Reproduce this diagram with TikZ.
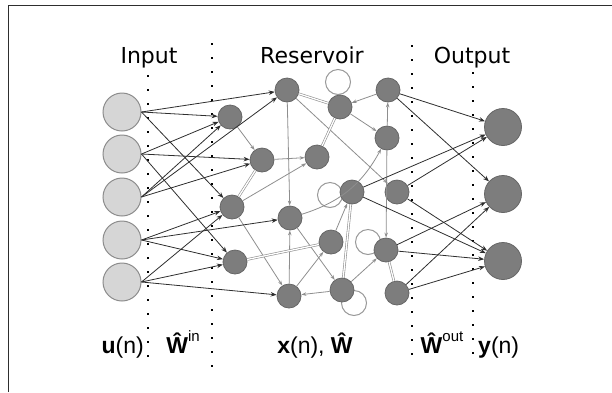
\documentclass[tikz,border=0pt]{standalone}
\usepackage{fontspec}
\setmainfont{Liberation Sans}
\newfontfamily\titlefont{DejaVu Sans}
\usetikzlibrary{arrows.meta}
\definecolor{inf}{HTML}{D6D6D6}
\definecolor{inb}{HTML}{8C8C8C}
\definecolor{resf}{HTML}{7D7D7D}
\definecolor{resb}{HTML}{666666}
\definecolor{edg}{HTML}{8E8E8E}
\definecolor{dark}{HTML}{2E2E2E}
\tikzset{
  innode/.style={circle,fill=inf,draw=inb,line width=1pt,minimum size=38pt,inner sep=0pt},
  resnode/.style={circle,fill=resf,draw=resb,line width=0.8pt,minimum size=24pt,inner sep=0pt},
  outnode/.style={circle,fill=resf,draw=resb,line width=0.8pt,minimum size=37pt,inner sep=0pt},
  loopc/.style={circle,draw=edg!90,line width=1pt,fill=none,minimum size=25pt,inner sep=0pt},
  inarr/.style={draw=dark,line width=0.8pt,-{Stealth[length=6pt,width=4.5pt]}},
  resarr/.style={draw=edg,line width=0.8pt,-{Stealth[length=5pt,width=3.5pt]}},
  dbl/.style={draw=edg,line width=0.6pt,double=white,double distance=1.3pt},
  dotline/.style={draw=black,line width=2pt,dash pattern=on 2pt off 12pt},
  ttl/.style={font=\titlefont\fontsize{22}{26}\selectfont,anchor=base,inner sep=0pt},
  lab/.style={font=\fontsize{23}{27}\selectfont,anchor=base,inner sep=0pt},
}
\newcommand{\supsm}[1]{\raisebox{0.5em}{\fontsize{15}{15}\selectfont #1}}
\begin{document}
\begin{tikzpicture}[x=1pt,y=-1pt]
\useasboundingbox (0,0) rectangle (612,392);
% frame
\draw[draw=dark,line width=1pt] (8,392) -- (8,5) -- (612,5);
% dotted separators
\coordinate (d1a) at (148,75);  \coordinate (d1b) at (148,360);
\coordinate (d2a) at (212,43);  \coordinate (d2b) at (212,370);
\coordinate (d3a) at (412,45);  \coordinate (d3b) at (412,360);
\coordinate (d4a) at (473,72);  \coordinate (d4b) at (473,356);
\draw[dotline] (d1a) -- (d1b);
\draw[dotline] (d2a) -- (d2b);
\draw[dotline] (d3a) -- (d3b);
\draw[dotline] (d4a) -- (d4b);
% titles
\node[ttl] (tin) at (149,63) {Input};
\node[ttl] (tres) at (312,63) {Reservoir};
\node[ttl] (tout) at (472,63) {Output};
% bottom labels
\node[lab,anchor=base east] (lu) at (144,353) {\textbf{u}(n)};
\node[lab] (lwin) at (183,353) {\textbf{Ŵ}\supsm{in}};
\node[lab] (lx) at (315,353) {\textbf{x}(n), \textbf{Ŵ}};
\node[lab] (lwout) at (442,353) {\textbf{Ŵ}\supsm{out}};
\node[lab,anchor=base west] (ly) at (478,353) {\textbf{y}(n)};
% self loops
\node[loopc] (l3) at (338,82) {};
\node[loopc] (l8) at (330,195) {};
\node[loopc] (l13) at (368,242) {};
\node[loopc] (l16) at (354,303) {};
% input nodes
\node[innode] (in1) at (122,112) {};
\node[innode] (in2) at (122,154) {};
\node[innode] (in3) at (122,197) {};
\node[innode] (in4) at (122,240) {};
\node[innode] (in5) at (122,282) {};
% reservoir nodes
\node[resnode] (n1) at (287,90) {};
\node[resnode] (n2) at (230,117) {};
\node[resnode] (n3) at (340,107) {};
\node[resnode] (n4) at (388,90) {};
\node[resnode] (n5) at (262,160) {};
\node[resnode] (n6) at (317,157) {};
\node[resnode] (n7) at (387,138) {};
\node[resnode] (n8) at (352,192) {};
\node[resnode] (n9) at (397,192) {};
\node[resnode] (n10) at (232,207) {};
\node[resnode] (n11) at (290,218) {};
\node[resnode] (n12) at (331,242) {};
\node[resnode] (n13) at (386,250) {};
\node[resnode] (n14) at (235,262) {};
\node[resnode] (n15) at (289,296) {};
\node[resnode] (n16) at (342,290) {};
\node[resnode] (n17) at (397,293) {};
% output nodes
\node[outnode] (o1) at (503,127) {};
\node[outnode] (o2) at (503,194) {};
\node[outnode] (o3) at (503,261) {};
% internal edges
\draw[dbl] (n1) -- (n3);
\draw[resarr] (n1) -- (n11);
\draw[resarr] (n1) -- (n9);
\draw[resarr] (n2) -- (n5);
\draw[dbl] (n3) -- (n6);
\draw[resarr] (n3) -- (n7);
\draw[resarr] (n4) -- (n3);
\draw[resarr] (n7) -- (n4);
\draw[resarr] (n5) -- (n6);
\draw[dbl] (n5) -- (n10);
\draw[resarr] (n10) -- (n6);
\draw[resarr] (n10) -- (n15);
\draw[resarr] (n11) to[bend right=22] (n7);
\draw[resarr] (n11) -- (n16);
\draw[resarr] (n15) -- (n11);
\draw[dbl] (n12) -- (n14);
\draw[resarr] (n15) -- (n12);
\draw[resarr] (n12) -- (n8);
\draw[dbl] (n8) -- (n16);
\draw[resarr] (n16) -- (n15);
\draw[resarr] (n16) -- (n13);
\draw[dbl] (n13) -- (n17);
\draw[resarr] (n7) -- (n13);
% input edges
\foreach \a/\b in {in1/n1,in1/n2,in1/n10,in2/n2,in2/n5,in2/n14,in3/n1,in3/n2,in3/n5,in4/n10,in4/n11,in4/n14,in5/n10,in5/n14,in5/n15}
  \draw[inarr] (\a.east) -- (\b);
% output edges
\foreach \a/\b in {n4/o1,n4/o2,n8/o1,n9/o1,n13/o2,n17/o2,n8/o3,n9/o3,n13/o3,n17/o3}
  \draw[inarr] (\a) -- (\b);
\end{tikzpicture}
\end{document}
